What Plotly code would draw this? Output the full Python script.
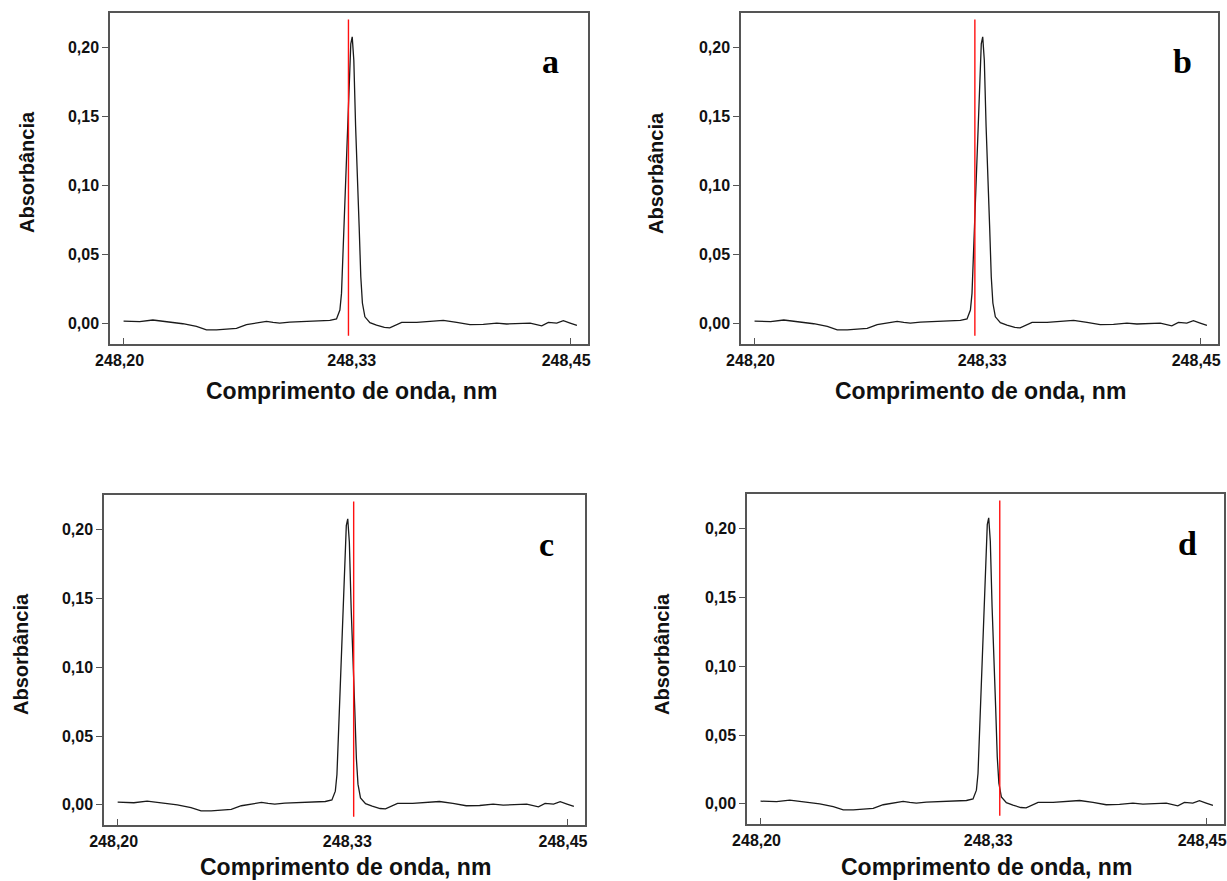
import plotly.graph_objects as go

# Fe absorption spectrum around 248.33 nm (same scan shown in all four panels)
wavelength_nm = [
    248.2000, 248.2090, 248.2164, 248.2211, 248.2258, 248.2332, 248.2408,
    248.2464, 248.2520, 248.2594, 248.2632, 248.2688, 248.2744, 248.2800,
    248.2837, 248.2874, 248.2930, 248.3005, 248.3080, 248.3155, 248.3192,
    248.3211, 248.3220, 248.3229, 248.3239, 248.3248, 248.3257, 248.3263,
    248.3272, 248.3280, 248.3289, 248.3299, 248.3310, 248.3319, 248.3328,
    248.3337, 248.3351, 248.3379, 248.3416, 248.3460, 248.3490, 248.3529,
    248.3557, 248.3641, 248.3715, 248.3790, 248.3865, 248.3939, 248.4014,
    248.4089, 248.4145, 248.4201, 248.4276, 248.4341, 248.4378, 248.4425,
    248.4462, 248.4500, 248.4538,
]
absorbance = [
    0.0019, 0.0015, 0.0027, 0.0019, 0.0010, 0.0000, -0.0020,
    -0.0044, -0.0044, -0.0036, -0.0034, -0.0007, 0.0005, 0.0017,
    0.0010, 0.0005, 0.0012, 0.0015, 0.0017, 0.0024, 0.0035,
    0.0099, 0.0220, 0.0535, 0.0870, 0.1240, 0.1550, 0.1790,
    0.2030, 0.2080, 0.1910, 0.1430, 0.1070, 0.0700, 0.0340,
    0.0150, 0.0050, 0.0008, -0.0010, -0.0027, -0.0030, -0.0005,
    0.0010, 0.0010, 0.0015, 0.0024, 0.0010, -0.0007, -0.0005,
    0.0005, -0.0002, 0.0000, 0.0005, -0.0015, 0.0010, 0.0005,
    0.0022, 0.0005, -0.0012,
]

# Position of the reference line (nm) in each panel
panel_letters = ["a", "b", "c", "d"]
marker_nm = [248.3259, 248.3236, 248.3313, 248.3342]
marker_span = [-0.0087, 0.2205]

x_tick_vals = [248.20, 248.33, 248.45]
x_tick_text = ["248,20", "248,33", "248,45"]
y_tick_vals = [0.00, 0.05, 0.10, 0.15, 0.20]
y_tick_text = ["0,00", "0,05", "0,10", "0,15", "0,20"]

W, H = 1227, 881


def px(x):
    return x / W


def py(y):
    return 1 - y / H


# plot boxes in pixels: (left, right, top, bottom)
boxes = [(110, 588, 13, 344), (741, 1218, 13, 344),
         (104, 585, 495, 825), (747, 1224, 494, 824)]
ytitle_pos = [(27, 172), (656, 173), (21, 654), (662, 654)]
xtitle_pos = [(351, 391), (980, 391), (345, 882), (986, 882)]
letter_pos = [(550, 62), (1182, 61), (546, 544), (1187, 543)]

sans = "Liberation Sans, Arial, sans-serif"
fig = go.Figure()
annotations = []
layout = {}

for i, (letter, xm) in enumerate(zip(panel_letters, marker_nm)):
    k = "" if i == 0 else str(i + 1)
    l, r, t, b = boxes[i]
    fig.add_trace(go.Scatter(
        x=wavelength_nm, y=absorbance, mode="lines",
        line=dict(color="#1a1a1a", width=1.3),
        xaxis="x" + k, yaxis="y" + k, showlegend=False, hoverinfo="skip"))
    fig.add_trace(go.Scatter(
        x=[xm, xm], y=marker_span, mode="lines",
        line=dict(color="#ff1010", width=1.4),
        xaxis="x" + k, yaxis="y" + k, showlegend=False, hoverinfo="skip"))

    layout["xaxis" + k] = dict(
        domain=[px(l), px(r)], anchor="y" + k, automargin=False,
        range=[248.1924, 248.4600], showgrid=False, zeroline=False,
        showline=True, mirror=True, linecolor="#555", linewidth=1.5,
        tickvals=x_tick_vals, ticktext=x_tick_text, ticks="",
        tickfont=dict(family=sans, size=16, color="#111", weight="bold"),
        ticklabelshift=-4, ticklabelstandoff=1,
        minor=dict(tickvals=[248.20, 248.45], ticks="inside", ticklen=6,
                   tickcolor="#555", tickwidth=1.2),
    )
    layout["yaxis" + k] = dict(
        domain=[py(b), py(t)], anchor="x" + k, automargin=False,
        range=[-0.0147, 0.2253], showgrid=False, zeroline=False,
        showline=True, mirror=True, linecolor="#555", linewidth=1.5,
        tickvals=y_tick_vals, ticktext=y_tick_text, ticks="outside",
        ticklen=6, tickcolor="#555", tickwidth=1.2,
        tickfont=dict(family=sans, size=16, color="#111", weight="bold"),
    )

    annotations.append(dict(
        text="Absorbância", x=px(ytitle_pos[i][0]), y=py(ytitle_pos[i][1]),
        xref="paper", yref="paper", textangle=-90, showarrow=False,
        xanchor="center", yanchor="middle",
        font=dict(family=sans, size=20, color="#111", weight="bold")))
    bottom_row = i >= 2
    annotations.append(dict(
        text="Comprimento de onda, nm", x=px(xtitle_pos[i][0]),
        y=py(xtitle_pos[i][1]), xref="paper", yref="paper", showarrow=False,
        xanchor="center", yanchor="bottom" if bottom_row else "middle",
        font=dict(family=sans, size=23, color="#111", weight="bold")))
    annotations.append(dict(
        text=letter, x=px(letter_pos[i][0]), y=py(letter_pos[i][1]),
        xref="paper", yref="paper", showarrow=False,
        xanchor="center", yanchor="middle",
        font=dict(family="Liberation Serif, Times New Roman, serif",
                  size=34, color="#000", weight="bold")))

fig.update_layout(
    width=W, height=H, margin=dict(l=0, r=0, t=0, b=0),
    paper_bgcolor="white", plot_bgcolor="white",
    annotations=annotations, **layout)

fig.write_html("out.html")
